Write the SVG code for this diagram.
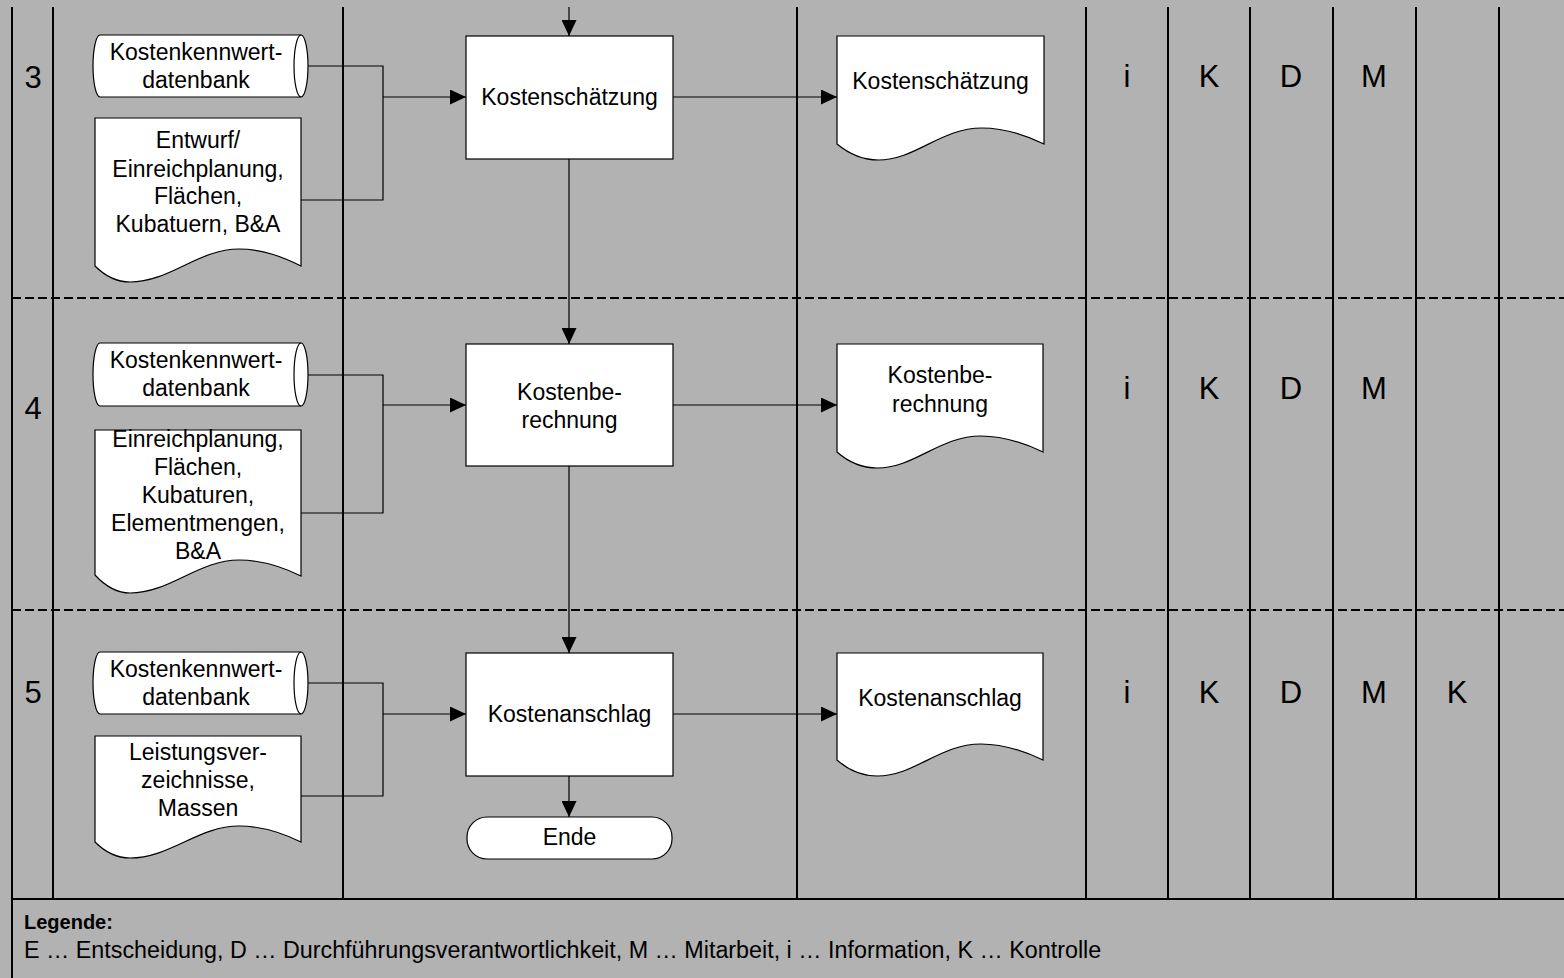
<svg xmlns="http://www.w3.org/2000/svg" width="1564" height="978" viewBox="0 0 1564 978">
<style>
.lane{stroke:#000;stroke-width:2;fill:none}
.dash{stroke:#000;stroke-width:2;stroke-dasharray:9 4;fill:none}
.shape{fill:#fff;stroke:#000;stroke-width:1.2}
.con{stroke:#000;stroke-width:1.2;fill:none}
.arr{stroke:#000;stroke-width:1.2;fill:none;marker-end:url(#ah)}
text{font-family:"Liberation Sans",Arial,sans-serif;fill:#000}
.t{font-size:23px;text-anchor:middle}
.big{font-size:31px;text-anchor:middle}
.leg{font-size:23.3px}
.legb{font-size:20px;font-weight:bold}
</style>
<defs>
<marker id="ah" markerWidth="16" markerHeight="15" refX="16" refY="7.5" orient="auto" markerUnits="userSpaceOnUse"><path d="M0,0 L16,7.5 L0,15 Z" fill="#000"/></marker>
</defs>
<rect x="0" y="0" width="1564" height="978" fill="#b2b2b2"/>
<g id="grid">
<line class="lane" x1="12" y1="7" x2="12" y2="978"/>
<line class="lane" x1="53" y1="7" x2="53" y2="899"/>
<line class="lane" x1="343" y1="7" x2="343" y2="899"/>
<line class="lane" x1="797" y1="7" x2="797" y2="899"/>
<line class="lane" x1="1086" y1="7" x2="1086" y2="899"/>
<line class="lane" x1="1168" y1="7" x2="1168" y2="899"/>
<line class="lane" x1="1250" y1="7" x2="1250" y2="899"/>
<line class="lane" x1="1333" y1="7" x2="1333" y2="899"/>
<line class="lane" x1="1416" y1="7" x2="1416" y2="899"/>
<line class="lane" x1="1499" y1="7" x2="1499" y2="899"/>
<line class="dash" x1="12" y1="298" x2="1564" y2="298"/>
<line class="dash" x1="12" y1="610" x2="1564" y2="610"/>
<line class="lane" x1="11" y1="899" x2="1564" y2="899"/>
</g>
<g id="labels">
<text class="big" x="33" y="88">3</text>
<text class="big" x="33" y="419">4</text>
<text class="big" x="33" y="703">5</text>
<text class="big" x="1127" y="87">i</text>
<text class="big" x="1209" y="87">K</text>
<text class="big" x="1291" y="87">D</text>
<text class="big" x="1374" y="87">M</text>
<text class="big" x="1127" y="399">i</text>
<text class="big" x="1209" y="399">K</text>
<text class="big" x="1291" y="399">D</text>
<text class="big" x="1374" y="399">M</text>
<text class="big" x="1127" y="703">i</text>
<text class="big" x="1209" y="703">K</text>
<text class="big" x="1291" y="703">D</text>
<text class="big" x="1374" y="703">M</text>
<text class="big" x="1457" y="703">K</text>
</g>
<g id="connectors">
<line class="arr" x1="569" y1="7" x2="569" y2="36"/>
<path class="con" d="M301,66 H383 V200 H301"/>
<line class="arr" x1="383" y1="97" x2="466" y2="97"/>
<line class="arr" x1="673" y1="97" x2="837" y2="97"/>
<line class="arr" x1="569" y1="159" x2="569" y2="344"/>
<path class="con" d="M301,375 H383 V513 H301"/>
<line class="arr" x1="383" y1="405" x2="466" y2="405"/>
<line class="arr" x1="673" y1="405" x2="837" y2="405"/>
<line class="arr" x1="569" y1="466" x2="569" y2="653"/>
<path class="con" d="M301,683 H383 V796 H301"/>
<line class="arr" x1="383" y1="714" x2="466" y2="714"/>
<line class="arr" x1="673" y1="714" x2="837" y2="714"/>
<line class="arr" x1="569" y1="776" x2="569" y2="817"/>
</g>
<g id="db3">
<path class="shape" d="M100,35 H301 A7,31 0 0 1 301,97 H100 A7,31 0 0 1 100,35 Z"/>
<path class="con" d="M301,35 A7,31 0 0 0 301,97"/>
<text class="t" x="196" y="60">Kostenkennwert-</text>
<text class="t" x="196" y="88">datenbank</text>
</g>
<g id="in3">
<path class="shape" d="M95,118 H301 V266 C284.5,258 263.9,249 239.2,249 C198,249 170,282 130,282 C118,282 107,278 95,266 Z"/>
<text class="t" x="198" y="148">Entwurf/</text>
<text class="t" x="198" y="177">Einreichplanung,</text>
<text class="t" x="198" y="204">Flächen,</text>
<text class="t" x="198" y="232">Kubatuern, B&amp;A</text>
</g>
<g id="p3">
<rect class="shape" x="466" y="36" width="207" height="123"/>
<text class="t" x="569.5" y="105">Kostenschätzung</text>
</g>
<g id="out3">
<path class="shape" d="M837,36 H1044 V144 C1027.4,136 1006.7,128 981.9,128 C940.5,128 915.7,160 878.4,160 C863.9,160 851.5,156 837,144 Z"/>
<text class="t" x="940.5" y="89">Kostenschätzung</text>
</g>
<g id="db4">
<path class="shape" d="M100,343 H301 A7,31.5 0 0 1 301,406 H100 A7,31.5 0 0 1 100,343 Z"/>
<path class="con" d="M301,343 A7,31.5 0 0 0 301,406"/>
<text class="t" x="196" y="368">Kostenkennwert-</text>
<text class="t" x="196" y="396">datenbank</text>
</g>
<g id="in4">
<path class="shape" d="M95,430 H301 V576 C284.5,568 263.9,560 239.2,560 C198,560 170,593 130,593 C118,593 107,588 95,575 Z"/>
<text class="t" x="198" y="447">Einreichplanung,</text>
<text class="t" x="198" y="475">Flächen,</text>
<text class="t" x="198" y="503">Kubaturen,</text>
<text class="t" x="198" y="531">Elementmengen,</text>
<text class="t" x="198" y="559">B&amp;A</text>
</g>
<g id="p4">
<rect class="shape" x="466" y="344" width="207" height="122"/>
<text class="t" x="569.5" y="400">Kostenbe-</text>
<text class="t" x="569.5" y="428">rechnung</text>
</g>
<g id="out4">
<path class="shape" d="M837,344 H1043 V452 C1026.4,444 1005.7,436 980.9,436 C939.5,436 914.7,468 877.4,468 C862.9,468 850.5,464 837,452 Z"/>
<text class="t" x="940" y="383">Kostenbe-</text>
<text class="t" x="940" y="412">rechnung</text>
</g>
<g id="db5">
<path class="shape" d="M100,652 H301 A7,31 0 0 1 301,714 H100 A7,31 0 0 1 100,652 Z"/>
<path class="con" d="M301,652 A7,31 0 0 0 301,714"/>
<text class="t" x="196" y="677">Kostenkennwert-</text>
<text class="t" x="196" y="705">datenbank</text>
</g>
<g id="in5">
<path class="shape" d="M95,736 H301 V842 C284.5,834 263.9,826 239.2,826 C198,826 170,858 130,858 C118,858 107,854 95,842 Z"/>
<text class="t" x="198" y="760">Leistungsver-</text>
<text class="t" x="198" y="788">zeichnisse,</text>
<text class="t" x="198" y="816">Massen</text>
</g>
<g id="p5">
<rect class="shape" x="466" y="653" width="207" height="123"/>
<text class="t" x="569.5" y="722">Kostenanschlag</text>
</g>
<g id="out5">
<path class="shape" d="M837,653 H1043 V760 C1026.4,752 1005.7,744 980.9,744 C939.5,744 914.7,776 877.4,776 C862.9,776 850.5,772 837,760 Z"/>
<text class="t" x="940" y="706">Kostenanschlag</text>
</g>
<g id="ende">
<rect class="shape" x="467" y="817" width="205" height="42" rx="20" ry="20"/>
<text class="t" x="569.5" y="845">Ende</text>
</g>
<g id="legend">
<text class="legb" x="24" y="929">Legende:</text>
<text class="leg" x="24" y="958">E … Entscheidung, D … Durchführungsverantwortlichkeit, M … Mitarbeit, i … Information, K … Kontrolle</text>
</g>
</svg>
